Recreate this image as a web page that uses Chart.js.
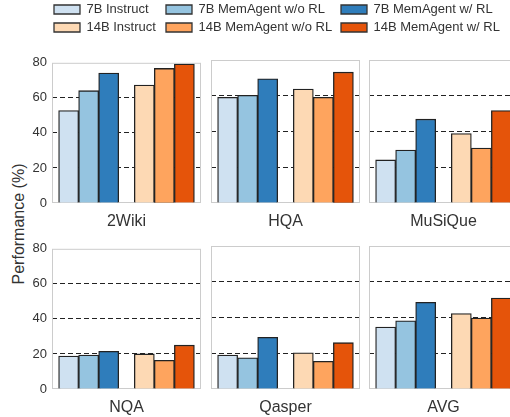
<!DOCTYPE html>
<html>
<head>
<meta charset="utf-8">
<script src="https://cdn.jsdelivr.net/npm/chart.js@4.4.1/dist/chart.umd.min.js"></script>
<style>
  html, body { margin: 0; padding: 0; background: #fff; overflow: hidden; }
  body { position: relative; width: 510px; height: 417px; }
  canvas { position: absolute; }
  #ytitle {
    position: absolute; left: 19px; top: 224px;
    transform: translate(-50%, -50%) rotate(-90deg);
    font: 16px 'Liberation Sans', Arial, sans-serif; color: #333; white-space: nowrap;
  }
</style>
</head>
<body>
<div id="ytitle">Performance (%)</div>
<script>
// data
const tasks = ['2Wiki', 'HQA', 'MuSiQue', 'NQA', 'Qasper', 'AVG'];
const seriesNames = ['7B Instruct', '7B MemAgent w/o RL', '7B MemAgent w/ RL',
                     '14B Instruct', '14B MemAgent w/o RL', '14B MemAgent w/ RL'];
const instruct7B  = [52.7, 59.1, 24.1, 18.8, 19.0, 34.7];
const memNoRL7B   = [64.1, 60.2, 29.6, 19.4, 17.5, 38.2];
const memRL7B     = [74.2, 69.5, 46.9, 21.5, 28.9, 48.5];
const instruct14B = [67.3, 63.7, 38.9, 20.0, 20.3, 42.2];
const memNoRL14B  = [76.8, 59.1, 30.7, 16.4, 15.5, 39.7];
const memRL14B    = [79.3, 73.2, 51.7, 25.0, 25.9, 50.9];
const yTicks = [0, 20, 40, 60, 80];

const series = [instruct7B, memNoRL7B, memRL7B, instruct14B, memNoRL14B, memRL14B];
const colors = ['#cfe1f1', '#95c4e0', '#2f7dbb', '#fdd9b4', '#fea45e', '#e5540a'];

Chart.defaults.font.family = "'Liberation Sans', Arial, sans-serif";
Chart.defaults.color = '#333';
Chart.defaults.animation = false;

// bar slots: 3 blue, gap, 3 orange (units of one bar width)
const groupGap = 0.78;
function slot(i) {
  const g = i < 3 ? -1 : 1;
  const k = i < 3 ? 2 - i : i - 3;
  return g * (groupGap / 2 + 0.5 + k);
}
const xHalf = 3.72;

const panelLeft = [52, 211, 369];
const rowTop = [60, 246];
const panelW = 149, panelH = 143;

function makeCanvas(left, top, w, h) {
  const c = document.createElement('canvas');
  c.width = w; c.height = h;
  c.style.left = left + 'px'; c.style.top = top + 'px';
  c.style.width = w + 'px'; c.style.height = h + 'px';
  document.body.appendChild(c);
  return c;
}

const framePlugin = {
  id: 'frame',
  beforeDatasetsDraw(chart) {
    const a = chart.chartArea, ctx = chart.ctx;
    ctx.save();
    ctx.strokeStyle = '#cccccc';
    ctx.lineWidth = 1;
    ctx.strokeRect(a.left + 0.5, a.top + 0.5, a.right - a.left - 1, a.bottom - a.top - 1);
    ctx.restore();
  }
};

tasks.forEach((task, p) => {
  const col = p % 3, row = Math.floor(p / 3);
  const axisW = col === 0 ? 52 : 0;
  const left = col === 0 ? 0 : panelLeft[col];
  const canvas = makeCanvas(left, rowTop[row] - 10, axisW + panelW + 2, 10 + panelH + 30);

  new Chart(canvas, {
    type: 'bar',
    data: {
      datasets: series.map((vals, s) => ({
        label: seriesNames[s],
        data: [{ x: slot(s), y: vals[p] }],
        backgroundColor: colors[s],
        borderColor: '#222',
        borderWidth: 1.3,
        grouped: false,
        barPercentage: 1,
        categoryPercentage: 1
      }))
    },
    options: {
      responsive: false,
      layout: { padding: { top: 10, right: 2, left: 0, bottom: 0 } },
      plugins: { legend: { display: false }, tooltip: { enabled: false } },
      scales: {
        x: {
          type: 'linear', min: -xHalf, max: xHalf, offset: false,
          grid: { display: false }, border: { display: false },
          ticks: { display: false, stepSize: 10 },
          title: { display: true, text: task, font: { size: 16 }, color: '#333', padding: { top: 0, bottom: 2 } },
          afterFit(scale) { scale.height = 30; }
        },
        y: {
          min: 0, max: 80,
          afterBuildTicks(scale) { scale.ticks = yTicks.map(v => ({ value: v })); },
          ticks: { display: col === 0, font: { size: 13 }, color: '#333', padding: 5 },
          border: { display: false, dash: [5, 3] },
          grid: {
            drawTicks: false,
            lineWidth: 1,
            color: ctx => (ctx.tick && ctx.tick.value > 0 && ctx.tick.value < 80) ? '#222' : 'rgba(0,0,0,0)'
          },
          afterFit(scale) { scale.width = axisW; }
        }
      }
    },
    plugins: [framePlugin]
  });
});

// legend: three columns of two entries
const legendCols = [[0, 3], [1, 4], [2, 5]];
const legendLeft = [49, 161, 336];
const legendWidth = [130, 185, 174];
legendCols.forEach((idx, c) => {
  const canvas = makeCanvas(legendLeft[c], -2, legendWidth[c], 100);
  new Chart(canvas, {
    type: 'bar',
    data: {
      datasets: idx.map(s => ({
        label: seriesNames[s], data: [],
        backgroundColor: colors[s], borderColor: '#333', borderWidth: 1.3
      }))
    },
    options: {
      responsive: false,
      scales: { x: { display: false }, y: { display: false } },
      plugins: {
        tooltip: { enabled: false },
        legend: {
          position: 'top', align: 'start',
          labels: { boxWidth: 26, boxHeight: 9, padding: 5, font: { size: 13 }, color: '#333' }
        }
      }
    }
  });
});
</script>
</body>
</html>
